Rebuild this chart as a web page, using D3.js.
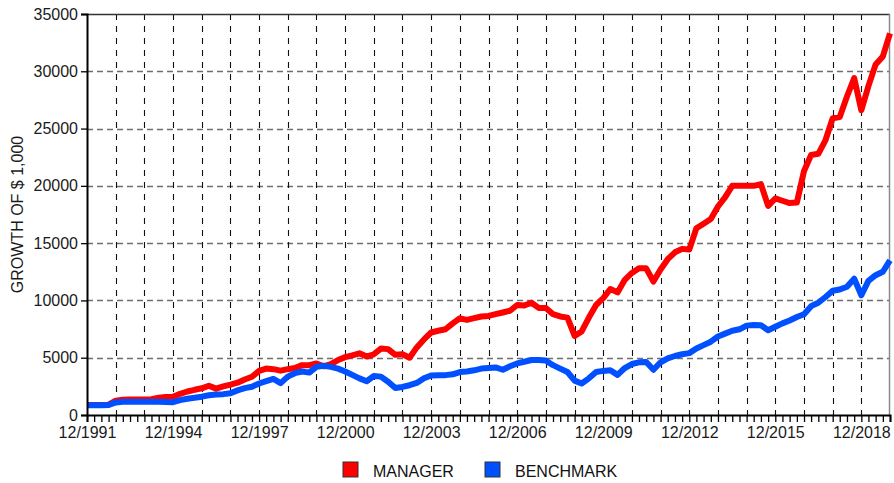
<!DOCTYPE html>
<html>
<head>
<meta charset="utf-8">
<script src="https://cdn.jsdelivr.net/npm/d3@7"></script>
<style>
  html, body { margin: 0; padding: 0; background: #fff; }
  svg { display: block; font-family: "Liberation Sans", Arial, sans-serif; }
</style>
</head>
<body>
<svg id="chart" width="894" height="483"></svg>
<script>
// Quarter-end observations from 12/1991 to 12/2019 (113 quarters)
const quarterCount = 113;

const manager = [
  880, 880, 880, 900, 1250, 1330, 1350, 1350, 1360, 1380,
  1500, 1580, 1600, 1850, 2050, 2200, 2330, 2550, 2300, 2500,
  2650, 2820, 3100, 3340, 3850, 4050, 4000, 3870, 4000, 4100,
  4350, 4350, 4500, 4250, 4450, 4800, 5050, 5200, 5380, 5100,
  5300, 5800, 5750, 5250, 5300, 5000, 5900, 6600, 7200, 7350,
  7480, 8000, 8440, 8300, 8450, 8600, 8650, 8800, 8950, 9100,
  9600, 9550, 9800, 9350, 9350, 8800, 8600, 8500, 6900, 7300,
  8500, 9600, 10200, 11000, 10700, 11800, 12400, 12800, 12800, 11650,
  12700, 13600, 14200, 14500, 14450, 16300, 16700, 17100, 18200, 19000,
  20000, 20000, 20000, 20000, 20150, 18250, 18900, 18700, 18500, 18550,
  21300, 22700, 22800, 24000, 25900, 26000, 27800, 29400, 26600, 28700,
  30600, 31300, 33300
];

const benchmark = [
  850, 850, 850, 870, 1100, 1150, 1150, 1150, 1150, 1150,
  1150, 1130, 1120, 1300, 1420, 1500, 1600, 1720, 1780, 1820,
  1900, 2150, 2350, 2470, 2750, 2950, 3150, 2780, 3350, 3650,
  3800, 3700, 4200, 4300, 4200, 4050, 3800, 3500, 3200, 2950,
  3400, 3350, 2900, 2350, 2450, 2600, 2800, 3200, 3450, 3480,
  3480, 3550, 3750, 3800, 3900, 4050, 4100, 4150, 3950, 4250,
  4500, 4650, 4800, 4800, 4750, 4350, 4050, 3750, 3000, 2750,
  3200, 3750, 3850, 3900, 3500, 4100, 4450, 4600, 4620, 3950,
  4600, 4950, 5150, 5300, 5400, 5800, 6100, 6400, 6850, 7100,
  7350, 7480, 7800, 7850, 7830, 7400, 7700, 8000, 8250, 8550,
  8800, 9500, 9800, 10300, 10850, 10950, 11200, 11900, 10450, 11700,
  12200, 12500, 13500
];

const seriesNames = ["MANAGER", "BENCHMARK"];
const seriesColors = ["#ff0000", "#0050ff"];

const xTickLabels = ["12/1991", "12/1994", "12/1997", "12/2000", "12/2003", "12/2006", "12/2009", "12/2012", "12/2015", "12/2018"];
const yTicks = [0, 5000, 10000, 15000, 20000, 25000, 30000, 35000];
const yTitle = "GROWTH OF $ 1,000";

// ---------------------------------------------------------------
const dates = d3.range(quarterCount).map(i => d3.timeMonth.offset(new Date(1991, 11, 15), 3 * i));
const margin = { left: 87, right: 4, top: 14, bottom: 68 };
const W = 894, H = 483;
const FS = 16;
const svg = d3.select("#chart");

const x = d3.scaleTime()
  .domain([dates[0], dates[dates.length - 1]])
  .range([margin.left, W - margin.right]);
const y = d3.scaleLinear().domain([0, 35000]).range([H - margin.bottom, margin.top]);

const x0 = margin.left, x1 = W - margin.right, yTop = margin.top, yBot = H - margin.bottom;

// horizontal grid
svg.append("g").selectAll("line")
  .data(yTicks.filter(v => v > 0 && v < 35000))
  .join("line")
  .attr("x1", x0).attr("x2", x1)
  .attr("y1", d => Math.round(y(d)) + 0.5).attr("y2", d => Math.round(y(d)) + 0.5)
  .attr("stroke", "#6e6e6e").attr("stroke-width", 1.3)
  .attr("stroke-dasharray", "6,4");

// vertical grid (every year, at December)
const yearDates = dates.filter((d, i) => i % 4 === 0 && i > 0 && i < quarterCount - 1);
svg.append("g").selectAll("line")
  .data(yearDates)
  .join("line")
  .attr("x1", d => Math.round(x(d)) + 0.5).attr("x2", d => Math.round(x(d)) + 0.5)
  .attr("y1", yTop).attr("y2", yBot)
  .attr("stroke", "#111").attr("stroke-width", 1.1)
  .attr("stroke-dasharray", "6,6");

// top & right border
svg.append("line").attr("x1", x0).attr("x2", x1).attr("y1", yTop + 0.5).attr("y2", yTop + 0.5)
  .attr("stroke", "#333").attr("stroke-width", 1.3);
svg.append("line").attr("x1", x1 - 0.5).attr("x2", x1 - 0.5).attr("y1", yTop).attr("y2", yBot)
  .attr("stroke", "#8a8a8a").attr("stroke-width", 1.5);

// lines
const line = d3.line()
  .x((d, i) => x(dates[i]))
  .y(d => y(d));

const seriesData = [manager, benchmark];
svg.append("g").selectAll("path")
  .data(seriesData)
  .join("path")
  .attr("d", d => line(d))
  .attr("fill", "none")
  .attr("stroke", (d, i) => seriesColors[i])
  .attr("stroke-width", 6)
  .attr("stroke-linejoin", "round")
  .attr("stroke-linecap", "butt");

// Y axis
const yAxis = d3.axisLeft(y).tickValues(yTicks).tickSize(6).tickPadding(3).tickFormat(d3.format("d"));
const gy = svg.append("g").attr("transform", `translate(${x0},0)`).call(yAxis);
gy.select(".domain").attr("stroke", "#000").attr("stroke-width", 2);
gy.selectAll(".tick line").attr("stroke", "#000").attr("stroke-width", 1.3);
gy.selectAll(".tick text").attr("font-size", FS).attr("fill", "#1a1a1a")
  .attr("font-family", "'Liberation Sans', Arial, sans-serif");

// X axis: quarterly ticks, labels every 3 years
const labelMap = new Map();
xTickLabels.forEach((lab, k) => labelMap.set(k * 12, lab));
const xAxis = d3.axisBottom(x).tickValues(dates).tickSize(7).tickPadding(5)
  .tickFormat((d, i) => labelMap.has(i) ? labelMap.get(i) : "");
const gx = svg.append("g").attr("transform", `translate(0,${yBot})`).call(xAxis);
gx.select(".domain").attr("stroke", "#000").attr("stroke-width", 2);
gx.selectAll(".tick line").attr("stroke", "#000").attr("stroke-width", 1.3);
gx.selectAll(".tick text").attr("font-size", FS).attr("fill", "#1a1a1a")
  .attr("font-family", "'Liberation Sans', Arial, sans-serif");

// Y title
svg.append("text")
  .attr("transform", `translate(23,${(yTop + yBot) / 2}) rotate(-90)`)
  .attr("text-anchor", "middle")
  .attr("font-size", FS)
  .attr("fill", "#1a1a1a")
  .text(yTitle);

// Legend
const legendX = [343, 485];
const lg = svg.append("g").selectAll("g").data(seriesNames).join("g")
  .attr("transform", (d, i) => `translate(${legendX[i]},462)`);
lg.append("rect").attr("width", 15).attr("height", 15)
  .attr("fill", (d, i) => seriesColors[i]).attr("stroke", "#333").attr("stroke-width", 1);
lg.append("text").attr("x", 30).attr("y", 14.5).attr("font-size", FS).attr("fill", "#111")
  .text(d => d);
</script>
</body>
</html>
